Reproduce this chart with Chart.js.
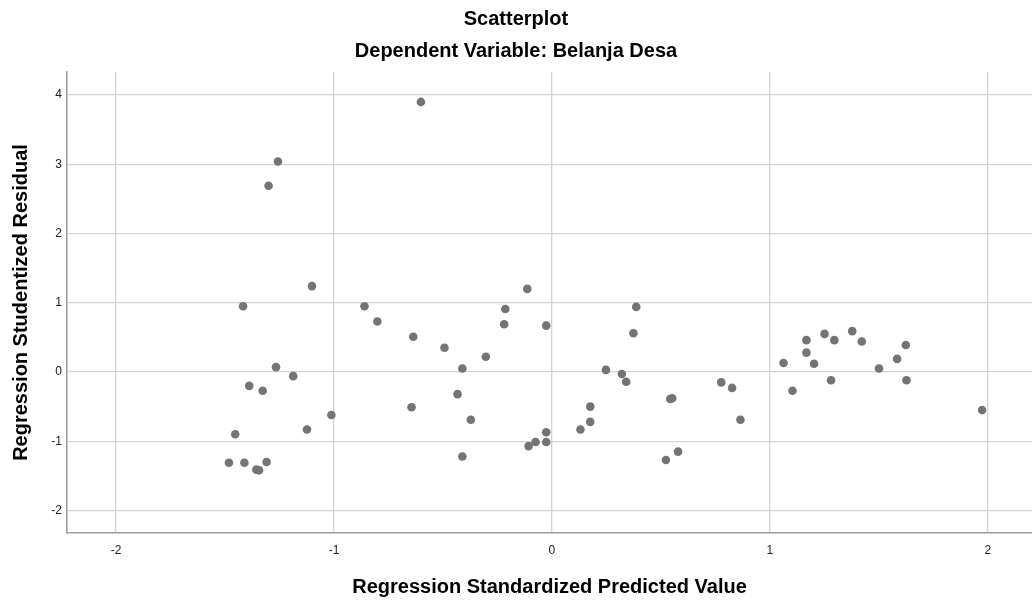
<!DOCTYPE html>
<html>
<head>
<meta charset="utf-8">
<script src="https://cdn.jsdelivr.net/npm/chart.js@4"></script>
<style>
  html, body { margin: 0; padding: 0; background: #fff; }
  #wrap { width: 1032px; height: 600px; }
</style>
</head>
<body>
<div id="wrap"><canvas id="c" width="1032" height="600"></canvas></div>
<script>
const chartTitle = "Scatterplot";
const chartSubtitle = "Dependent Variable: Belanja Desa";
const xAxisTitle = "Regression Standardized Predicted Value";
const yAxisTitle = "Regression Studentized Residual";

const predicted = [
  -1.257, -1.300, -1.101, -1.417, -0.860, -0.801, -1.266, -1.187, -1.389, -1.327,
  -1.012, -1.124, -1.453, -1.482, -1.411, -1.309, -1.356, -1.344, -0.601, -0.113,
  -0.214, 0.387, -0.636, -0.219, -0.026, -0.493, -0.303, -0.411, 0.374, 0.248,
  0.321, 0.341, -0.433, -0.644, -0.372, 0.176, 0.176, 0.131, -0.026, -0.075,
  -0.107, -0.026, -0.411, 0.543, 0.552, 0.579, 0.523, 0.777, 0.827, 0.865,
  1.063, 1.104, 1.168, 1.168, 1.203, 1.251, 1.296, 1.281, 1.378, 1.422,
  1.501, 1.584, 1.624, 1.627, 1.974
];
const residual = [
  3.04, 2.69, 1.24, 0.95, 0.95, 0.73, 0.07, -0.06, -0.20, -0.27,
  -0.62, -0.83, -0.90, -1.31, -1.31, -1.30, -1.41, -1.42, 3.90, 1.20,
  0.91, 0.94, 0.51, 0.69, 0.67, 0.35, 0.22, 0.05, 0.56, 0.03,
  -0.03, -0.14, -0.32, -0.51, -0.69, -0.50, -0.72, -0.83, -0.87, -1.01,
  -1.07, -1.01, -1.22, -0.39, -0.38, -1.15, -1.27, -0.15, -0.23, -0.69,
  0.13, -0.27, 0.46, 0.28, 0.12, 0.55, 0.46, -0.12, 0.59, 0.44,
  0.05, 0.19, 0.39, -0.12, -0.55
];
const xRange = [-2.225, 2.203];
const yRange = [-2.325, 4.332];

const points = predicted.map((x, i) => ({ x: x, y: residual[i] }));
const FONT = "'Liberation Sans', Arial, sans-serif";

// Let the plot area run to the right edge of the canvas, as in the reference.
const fullWidthPlot = {
  id: 'fullWidthPlot',
  afterLayout(chart) {
    const xs = chart.scales.x;
    const right = chart.width;
    xs.right = right;
    xs.width = right - xs.left;
    xs.configure();
    chart.chartArea.right = right;
    chart.chartArea.width = right - chart.chartArea.left;
  }
};

new Chart(document.getElementById('c'), {
  type: 'scatter',
  data: {
    datasets: [{
      data: points,
      backgroundColor: '#747474',
      borderColor: '#747474',
      borderWidth: 0,
      pointRadius: 4.3,
      pointHoverRadius: 4.3
    }]
  },
  plugins: [fullWidthPlot],
  options: {
    responsive: false,
    animation: false,
    layout: { padding: 0 },
    plugins: {
      legend: { display: false },
      tooltip: { enabled: false },
      title: {
        display: true,
        text: chartTitle,
        color: '#000',
        font: { family: FONT, size: 20, weight: 'bold', lineHeight: 1.2 },
        padding: { top: 7, bottom: 4 }
      },
      subtitle: {
        display: true,
        text: chartSubtitle,
        color: '#000',
        font: { family: FONT, size: 20, weight: 'bold', lineHeight: 1.2 },
        padding: { top: 4.5, bottom: 8.5 }
      }
    },
    scales: {
      x: {
        type: 'linear',
        min: xRange[0],
        max: xRange[1],
        afterFit: (s) => { s.height = 67; },
        ticks: {
          stepSize: 1,
          includeBounds: false,
          padding: 10,
          color: '#222',
          font: { family: FONT, size: 12 },
          maxRotation: 0
        },
        grid: { color: '#d4d4d4', lineWidth: 1.3, drawTicks: false },
        border: { color: '#a0a0a0', width: 1.6 },
        title: {
          display: true,
          text: xAxisTitle,
          color: '#000',
          font: { family: FONT, size: 20, weight: 'bold', lineHeight: 1.2 },
          padding: { top: 4, bottom: 1 }
        }
      },
      y: {
        type: 'linear',
        min: yRange[0],
        max: yRange[1],
        afterFit: (s) => { s.width = 67; },
        ticks: {
          stepSize: 1,
          includeBounds: false,
          padding: 5,
          color: '#222',
          font: { family: FONT, size: 12 }
        },
        grid: { color: '#d4d4d4', lineWidth: 1.3, drawTicks: false },
        border: { color: '#a0a0a0', width: 1.6 },
        title: {
          display: true,
          text: yAxisTitle,
          color: '#000',
          font: { family: FONT, size: 20, weight: 'bold', lineHeight: 1.2 },
          padding: { top: 9, bottom: 0 }
        }
      }
    }
  }
});
</script>
</body>
</html>
